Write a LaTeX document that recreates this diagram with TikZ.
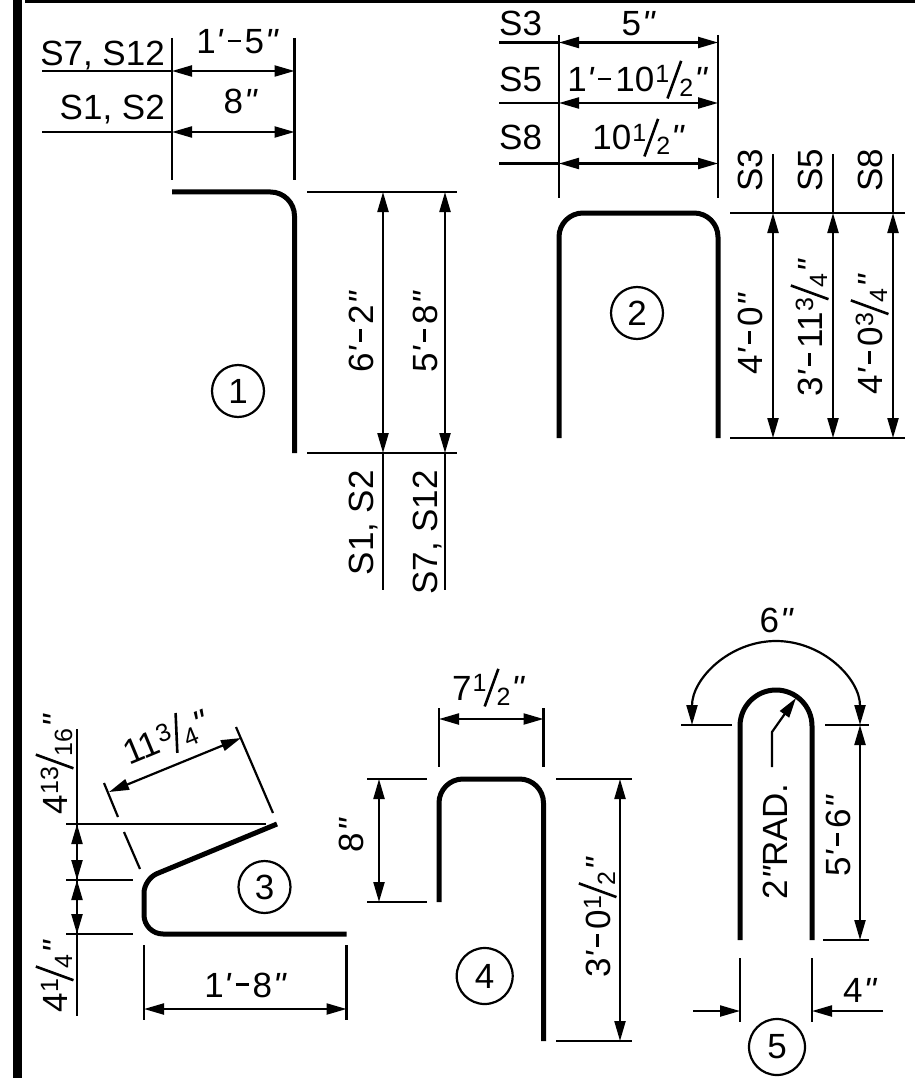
\documentclass[tikz,border=0pt]{standalone}
\usepackage{fontspec}
\usepackage{tikz}
\usetikzlibrary{arrows.meta}
\newfontfamily\cadfont{Liberation Sans}
\newcommand{\ftm}{{\itshape'}\kern2pt}
\newcommand{\inm}{\kern1pt{\itshape"}}
\newcommand{\dsh}{\kern3pt\rule[11.5pt]{13pt}{2.6pt}\kern4pt}
\newcommand{\frc}[2]{\kern1pt\raisebox{9pt}{\fontsize{25}{25}\selectfont #1}\kern-3pt\raisebox{-6pt}{\rotatebox{-20}{\rule{2.6pt}{40pt}}}\kern-3pt\raisebox{-5pt}{\fontsize{25}{25}\selectfont #2}}
\tikzset{
	bar/.style={line width=5pt,rounded corners=24pt},
	thinline/.style={line width=2.2pt},
	dimline/.style={line width=2.2pt,<->},
	lbl/.style={font=\cadfont\fontsize{35}{40}\selectfont,inner sep=0pt,anchor=base},
	tagcircle/.style={circle,draw,line width=2.2pt,minimum size=52pt,inner sep=0pt,font=\cadfont\fontsize{35}{40}\selectfont}
}

\begin{document}
\begin{tikzpicture}[x=1pt,y=-1pt,>={Triangle[length=20pt,width=11pt]}]
	\useasboundingbox (0,0) rectangle (915,1078);
	% frame
	\fill (13,0) rectangle (21.5,1078);
	\fill (25,0) rectangle (915,3);

	% bar 1
	\begin{scope}
		\draw[bar] (172,192) -- (294.5,192) -- (294.5,453);
		\draw[thinline] (172,38) -- (172,180);
		\draw[thinline] (294.5,38) -- (294.5,180);
		\draw[thinline] (42,71) -- (172,71);
		\draw[thinline] (42,132) -- (172,132);
		\draw[dimline] (172,71) -- (294.5,71);
		\draw[dimline] (172,132) -- (294.5,132);
		\draw[thinline] (307,192) -- (457,192);
		\draw[thinline] (307,453) -- (457,453);
		\draw[dimline] (383,192) -- (383,453);
		\draw[dimline] (445,192) -- (445,453);
		\draw[thinline] (383,453) -- (383,590);
		\draw[thinline] (445,453) -- (445,590);
		\node[lbl,anchor=base east] (s7a) at (165,66) {S7, S12};
		\node[lbl,anchor=base east] (s1a) at (165,120) {S1, S2};
		\node[lbl] (w1a) at (237,54) {1\ftm\dsh 5\inm};
		\node[lbl] (w1b) at (240,114) {8\inm};
		\node[lbl,rotate=90,anchor=base west] (h1a) at (373,373) {6\ftm\dsh 2\inm};
		\node[lbl,rotate=90,anchor=base west] (h1b) at (437,373) {5\ftm\dsh 8\inm};
		\node[lbl,rotate=90,anchor=base east] (s1b) at (373,470) {S1, S2};
		\node[lbl,rotate=90,anchor=base east] (s7b) at (437,470) {S7, S12};
		\node[tagcircle] (tag1) at (238,391) {1};
	\end{scope}

	% bar 2
	\begin{scope}
		\draw[bar] (559,438) -- (559,213) -- (718,213) -- (718,438);
		\draw[thinline] (559,35) -- (559,198);
		\draw[thinline] (718,35) -- (718,198);
		\draw[thinline] (499,42.5) -- (559,42.5);
		\draw[thinline] (499,103) -- (559,103);
		\draw[thinline] (499,163.5) -- (559,163.5);
		\draw[dimline] (559,42.5) -- (718,42.5);
		\draw[dimline] (559,103) -- (718,103);
		\draw[dimline] (559,163.5) -- (718,163.5);
		\draw[thinline] (730,213) -- (905,213);
		\draw[thinline] (730,438) -- (905,438);
		\draw[thinline] (773,154) -- (773,213);
		\draw[thinline] (833,154) -- (833,213);
		\draw[thinline] (893,154) -- (893,213);
		\draw[dimline] (773,213) -- (773,438);
		\draw[dimline] (833,213) -- (833,438);
		\draw[dimline] (893,213) -- (893,438);
		\node[lbl,anchor=base west] (s3a) at (499,36) {S3};
		\node[lbl,anchor=base west] (s5a) at (499,92) {S5};
		\node[lbl,anchor=base west] (s8a) at (499,150) {S8};
		\node[lbl] (w2a) at (638,36) {5\inm};
		\node[lbl] (w2b) at (637,92) {1\ftm\dsh 10\frc{1}{2}\inm};
		\node[lbl] (w2c) at (638,150) {10\frc{1}{2}\inm};
		\node[lbl,rotate=90,anchor=base west] (s3b) at (762,192) {S3};
		\node[lbl,rotate=90,anchor=base west] (s5b) at (822,192) {S5};
		\node[lbl,rotate=90,anchor=base west] (s8b) at (882,192) {S8};
		\node[lbl,rotate=90,anchor=base west] (h2a) at (762,375) {4\ftm\dsh 0\inm};
		\node[lbl,rotate=90,anchor=base west] (h2b) at (822,397) {3\ftm\dsh 11\frc{3}{4}\inm};
		\node[lbl,rotate=90,anchor=base west] (h2c) at (882,395) {4\ftm\dsh 0\frc{3}{4}\inm};
		\node[tagcircle] (tag2) at (637,313) {2};
	\end{scope}

	% bar 3
	\begin{scope}
		\draw[line width=5pt,rounded corners=19pt] (346.5,934) -- (144,934) [rounded corners=14pt] -- (144,879) -- (277,824);
		\draw[thinline] (77,729) -- (77,1016);
		\draw[thinline] (66,824) -- (266,824);
		\draw[thinline] (66,880) -- (133,880);
		\draw[thinline] (66,934) -- (133,934);
		\draw[dimline] (77,824) -- (77,880);
		\draw[dimline] (77,880) -- (77,934);
		\draw[thinline] (236,727) -- (273,813);
		\draw[thinline] (104,783) -- (118,817);
		\draw[thinline] (124,832) -- (140,869);
		\draw[dimline] (109,792) -- (241,738);
		\draw[thinline] (144,945) -- (144,1020);
		\draw[thinline] (346.5,945) -- (346.5,1020);
		\draw[dimline] (144,1009) -- (346.5,1009);
		\node[lbl] (w3a) at (245,997) {1\ftm\dsh 8\inm};
		\node[lbl,rotate=90,anchor=base west] (h3a) at (67,815) {4\frc{13}{16}\inm};
		\node[lbl,rotate=90,anchor=base west] (h3b) at (67,1013) {4\frc{1}{4}\inm};
		\node[lbl,rotate=22.5,anchor=base west] (w3b) at (129,766) {11\frc{3}{4}\inm};
		\node[tagcircle] (tag3) at (264.5,887) {3};
	\end{scope}

	% bar 4
	\begin{scope}
		\draw[bar] (439,902) -- (439,779) -- (543.5,779) -- (543.5,1041);
		\draw[thinline] (439,708) -- (439,767);
		\draw[thinline] (543.5,708) -- (543.5,767);
		\draw[dimline] (439,719) -- (543.5,719);
		\draw[thinline] (367,779) -- (427,779);
		\draw[thinline] (367,902) -- (427,902);
		\draw[dimline] (379,779) -- (379,902);
		\draw[thinline] (556,779) -- (632,779);
		\draw[thinline] (556,1041) -- (632,1041);
		\draw[dimline] (620,779) -- (620,1041);
		\node[lbl] (w4a) at (488,700) {7\frc{1}{2}\inm};
		\node[lbl,rotate=90] (h4a) at (363,836) {8\inm};
		\node[lbl,rotate=90,anchor=base west] (h4b) at (610,978) {3\ftm\dsh 0\frc{1}{2}\inm};
		\node[tagcircle,minimum size=56pt] (tag4) at (484.7,976) {4};
	\end{scope}

	% bar 5
	\begin{scope}
		\draw[line width=5pt] (740,940) -- (740,726) arc (180:360:36) -- (812,940);
		\draw[thinline] (681,725) -- (732,725);
		\draw[thinline] (825,725) -- (869,725);
		\draw[thinline] (823,940) -- (869,940);
		\draw[dimline] (860,725) -- (860,940);
		\draw[dimline] (692,725) arc (180:360:84);
		\draw[thinline,->] (772,767) -- (772,732) -- (796,698);
		\draw[thinline] (740,958) -- (740,1022);
		\draw[thinline] (812,958) -- (812,1022);
		\draw[thinline,->] (693,1011) -- (740,1011);
		\draw[thinline,->] (883,1011) -- (812,1011);
		\node[lbl] (w5a) at (776,632) {6\inm};
		\node[lbl,anchor=base west] (w5b) at (843,1002) {4\inm};
		\node[lbl,rotate=90,anchor=base west] (r5a) at (787,900) {2\inm RAD.};
		\node[lbl,rotate=90,anchor=base west] (h5a) at (850,877) {5\ftm\dsh 6\inm};
		\node[tagcircle,minimum size=56pt] (tag5) at (777,1047) {5};
	\end{scope}
\end{tikzpicture}
\end{document}
